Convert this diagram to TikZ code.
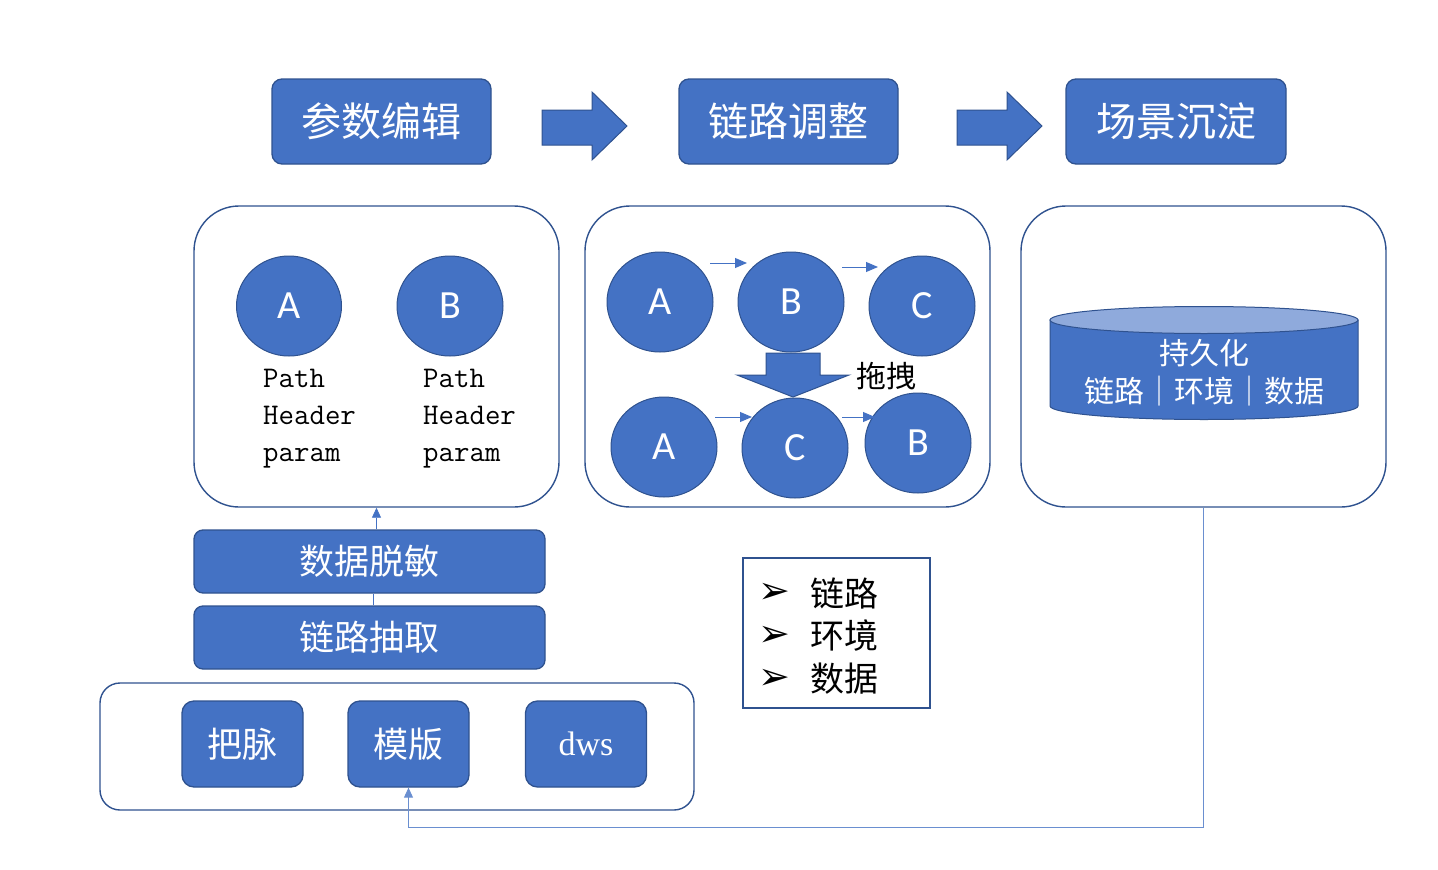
\documentclass[tikz,border=0pt]{standalone}
\usepackage{fontspec}
\newfontfamily\cjk{Noto Sans CJK SC}
\newfontfamily\lat{Carlito}
\newfontfamily\sym{DejaVu Sans}
\newfontfamily\serifl{Liberation Serif}
\usetikzlibrary{shapes.geometric,arrows.meta}
\definecolor{fillb}{HTML}{4472C4}
\definecolor{bdr}{HTML}{2F528F}
\definecolor{lite}{HTML}{8FAADC}
\definecolor{conn}{HTML}{6A8FD0}
\tikzset{
  topbox/.style={draw=bdr, fill=fillb, line width=1.3pt, rounded corners=10pt,
    minimum width=219pt, minimum height=85pt, text=white, inner sep=0,
    font=\cjk\fontsize{40}{44}\selectfont},
  stackbox/.style={draw=bdr, fill=fillb, line width=1.3pt, rounded corners=9pt,
    minimum width=351pt, minimum height=63pt, text=white, inner sep=0,
    font=\cjk\fontsize{35}{40}\selectfont},
  srcbox/.style={draw=bdr, fill=fillb, line width=1.3pt, rounded corners=12pt,
    minimum width=121pt, minimum height=86pt, text=white, inner sep=0,
    font=\cjk\fontsize{35}{40}\selectfont},
  panel/.style={draw=bdr, line width=1.4pt, rounded corners=45pt, fill=white,
    inner sep=0},
  circ/.style={ellipse, draw=bdr, fill=fillb, line width=1pt,
    minimum width=106pt, minimum height=100pt, text=white, inner sep=0,
    font=\lat\fontsize{40}{44}\selectfont},
  blockarrow/.style={draw=bdr, fill=fillb, line width=1pt},
  smallarrow/.style={draw=fillb, line width=1pt,
    -{Triangle[length=12pt,width=10pt]}},
  fields/.style={anchor=north west, align=left, inner sep=0,
    font=\ttfamily\fontsize{30}{37}\selectfont},
  legtext/.style={anchor=west, inner sep=0, font=\cjk\fontsize{34}{40}\selectfont},
  legsym/.style={inner sep=0, font=\sym\fontsize{38}{40}\selectfont},
  dbtext/.style={text=white, inner sep=0, font=\cjk\fontsize{30}{34}\selectfont},
}
\begin{document}
\begin{tikzpicture}[x=1pt,y=-1pt]
\useasboundingbox (0,0) rectangle (1438,870);

% top row
\node[topbox] (edit) at (381.5,121.5) {\raisebox{-3pt}{参数编辑}};
\node[topbox] (adjust) at (788.5,121.5) {\raisebox{-3pt}{链路调整}};
\node[topbox, minimum width=220pt] (settle) at (1176,121.5) {\raisebox{-3pt}{场景沉淀}};
\draw[blockarrow] (542,110) -- (592,110) -- (592,92) -- (627,126) -- (592,160) -- (592,145) -- (542,145) -- cycle;
\draw[blockarrow] (957,110) -- (1007,110) -- (1007,92) -- (1042,126) -- (1007,160) -- (1007,145) -- (957,145) -- cycle;

% panels
\node[panel, minimum width=365pt, minimum height=301pt] (p1) at (376.5,356.5) {};
\node[panel, minimum width=405pt, minimum height=301pt] (p2) at (787.5,356.5) {};
\node[panel, minimum width=365pt, minimum height=301pt] (p3) at (1203.5,356.5) {};

% panel 1
\node[circ, minimum width=105pt] (pa) at (289,306) {A};
\node[circ] (pb) at (450,306) {B};
\node[fields] (fa) at (263,369) {Path\\Header\\param};
\node[fields] (fb) at (423,369) {Path\\Header\\param};

% panel 2
\node[circ] (a1) at (660,302) {A};
\node[circ] (b1) at (791,302) {B};
\node[circ] (c1) at (922,306) {C};
\node[circ] (a2) at (664,447) {A};
\node[circ] (c2) at (795,448) {C};
\node[circ] (b2) at (918,443) {B};
\draw[smallarrow] ([shift={(50,-39)}]a1.center) -- ([shift={(-44,-39)}]b1.center);
\draw[smallarrow] ([shift={(51,-35)}]b1.center) -- ([shift={(-44,-39)}]c1.center);
\draw[smallarrow] ([shift={(51,-30)}]a2.center) -- ([shift={(-43,-31)}]c2.center);
\draw[smallarrow] ([shift={(47,-31)}]c2.center) -- ([shift={(-43,-26)}]b2.center);
\draw[blockarrow] (766,353) -- (820,353) -- (820,375) -- (849,375) -- (793,397) -- (737,375) -- (766,375) -- cycle;
\node[inner sep=0, font=\cjk\fontsize{30}{34}\selectfont] (drag) at (886,376) {拖拽};

% panel 3: database cylinder
\draw[blockarrow] (1050,320) -- (1050,406) arc (180:0:154 and 13.5) -- (1358,320) -- cycle;
\draw[blockarrow, fill=lite] (1204,320) ellipse (154 and 13.5);
\node[dbtext] (db1) at (1204,353) {持久化};
\node[dbtext] (db2) at (1204,391) {链路｜环境｜数据};

% lower stack
\node[stackbox] (desens) at (369.5,561.5) {数据脱敏};
\node[stackbox] (extract) at (369.5,637.5) {链路抽取};
\draw[draw=fillb, line width=0.8pt] ([xshift=4]extract.north) -- ([xshift=4]desens.south);
\draw[smallarrow, line width=0.8pt, -{Triangle[length=10pt,width=9pt]}] (p1.south |- desens.north) -- (p1.south);

% sources
\node[draw=bdr, line width=1.4pt, rounded corners=20pt, minimum width=594pt, minimum height=127pt, inner sep=0] (src) at (397,746.5) {};
\node[srcbox] (pulse) at (242.5,744) {把脉};
\node[srcbox] (tpl) at (408.5,744) {模版};
\node[srcbox, font=\serifl\fontsize{34}{36}\selectfont] (dws) at (586,744) {dws};

% legend
\node[draw=bdr, line width=1.5pt, minimum width=187pt, minimum height=150pt, inner sep=0] (legend) at (836.5,633) {};
\node[legsym] (s1) at (774,593) {➢};
\node[legsym] (s2) at (774,636) {➢};
\node[legsym] (s3) at (774,679) {➢};
\node[legtext] (l1) at (810,593) {链路};
\node[legtext] (l2) at (810,636) {环境};
\node[legtext] (l3) at (810,679) {数据};

% feedback connector
\draw[draw=conn, line width=0.9pt, -{Triangle[length=10pt,width=9pt]}] (p3.south) |- (tpl.south |- 0,827) -- (tpl.south);
\end{tikzpicture}
\end{document}
